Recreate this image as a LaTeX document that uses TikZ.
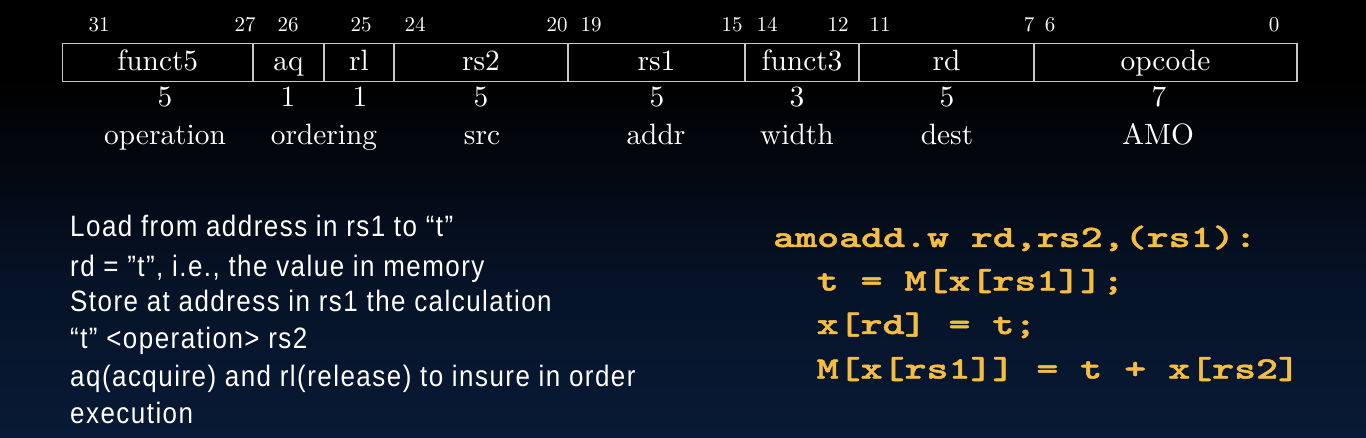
\documentclass[tikz,border=0pt]{standalone}
\usepackage{fontspec}
\newfontfamily\tabfont{lmroman10-regular}[Extension=.otf]
\newfontfamily\notefont{Liberation Sans}[FakeStretch=0.88, LetterSpace=5]
\newfontfamily\codefont{lmmonolt10-bold}[Extension=.otf, FakeStretch=1.35, FakeBold=1.6]
\definecolor{codeyellow}{RGB}{245,190,66}
\definecolor{slatebg}{RGB}{12,36,74}
\definecolor{slatemid}{RGB}{6,19,40}
\definecolor{boxgray}{RGB}{200,200,200}
\pgfdeclareverticalshading{slidebg}{100bp}{color(0bp)=(slatebg); color(42bp)=(slatemid); color(66bp)=(black); color(100bp)=(black)}
\tikzset{
  bitnum/.style={text=white, font=\tabfont\fontsize{21}{21}\selectfont, anchor=base, inner sep=0pt},
  fieldtxt/.style={text=white, font=\tabfont\fontsize{29.4}{29.4}\selectfont, anchor=base, inner sep=0pt},
  fieldbox/.style={draw=boxgray, line width=1.3pt},
  notetxt/.style={text=white, font=\notefont\fontsize{29.5}{29.5}\selectfont, anchor=base west, inner sep=0pt},
  codetxt/.style={text=codeyellow, font=\codefont\fontsize{31}{31}\selectfont, anchor=base west, inner sep=0pt}
}
\begin{document}
\begin{tikzpicture}[x=1pt, y=-1pt]
	\useasboundingbox (0,0) rectangle (1366,438);
	\shade[shading=slidebg] (0,0) rectangle (1366,438);

	% instruction fields
	\foreach \l/\r/\t [count=\i] in {62.5/253/funct5, 253/324/aq, 324/394/rl, 394/568/rs2, 568/745/rs1, 745/859/funct3, 859/1034/rd, 1034/1297/opcode}
	{
		\draw[fieldbox] (\l,43.5) rectangle (\r,81.5);
		\node[fieldtxt] (f\i) at ({(\l+\r)/2},70.5) {\t};
	}
	\foreach \x/\b in {99/31, 245/27, 288/26, 361/25, 415/24, 557/20, 591/19, 732/15, 767/14, 838/12, 880/11, 1029/7, 1050/6, 1274/0}
	{
		\node[bitnum] (b\b) at (\x,32) {\b};
	}
	\foreach \x/\w [count=\i] in {165/5, 288/1, 360/1, 481/5, 657/5, 797/3, 947/5, 1159/7}
	{
		\node[fieldtxt] (w\i) at (\x,107) {\w};
	}
	\foreach \x/\d [count=\i] in {165/operation, 324/ordering, 482/src, 656/addr, 797/width, 947/dest, 1158/AMO}
	{
		\node[fieldtxt] (d\i) at (\x,144.5) {\d};
	}

	% notes
	\node[notetxt] (n1) at (70,237) {Load from address in rs1 to “t”};
	\node[notetxt] (n2) at (70,276.5) {rd = ”t”, i.e., the value in memory};
	\node[notetxt] (n3) at (70,311.5) {Store at address in rs1 the calculation};
	\node[notetxt] (n4) at (70,348.5) {“t” <operation> rs2};
	\node[notetxt] (n5) at (70,387) {aq(acquire) and rl(release) to insure in order};
	\node[notetxt] (n6) at (70,423) {execution};

	% code
	\node[codetxt] (c1) at (773,247) {amoadd.w rd,rs2,(rs1):};
	\node[codetxt] (c2) at (816.5,290.5) {t = M[x[rs1]];};
	\node[codetxt] (c3) at (816.5,334) {x[rd] = t;};
	\node[codetxt] (c4) at (816.5,378.5) {M[x[rs1]] = t + x[rs2]};
\end{tikzpicture}
\end{document}
